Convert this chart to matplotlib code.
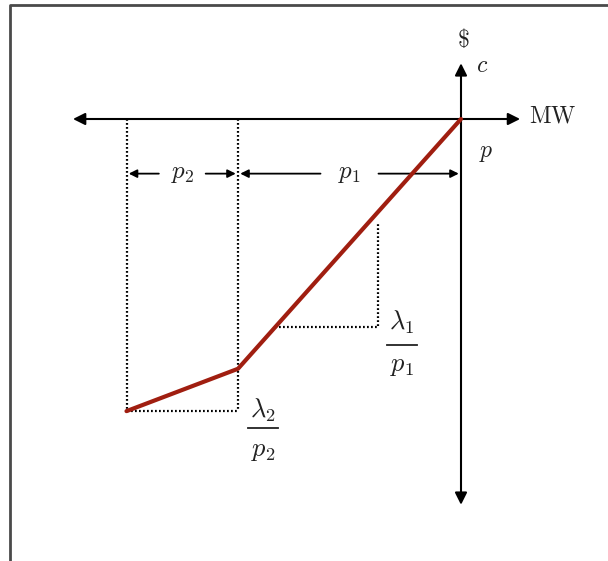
import matplotlib.pyplot as plt
import numpy as np
from matplotlib.lines import Line2D

plt.rcParams["mathtext.fontset"] = "cm"
plt.rcParams["font.family"] = ["DejaVu Serif"]

# piecewise-linear cost curve (MW on x, $ on y), origin at operating point p
mw_points = [-3.0, -2.0, 0.0]
cost_points = [-2.62, -2.24, 0.0]
segment_labels = [r"$p_2$", r"$p_1$"]
slope_num = [r"$\lambda_2$", r"$\lambda_1$"]
slope_den = [r"$p_2$", r"$p_1$"]

# slope triangle for the first segment
tri1_x = -0.744
tri1_y_low = -1.865
tri1_y_high = -0.924

INK = "#222222"
RED = "#a01e10"
PX = 111.5  # pixels per data unit
W, H = 608, 561
ox, oy = 461, 119  # origin in pixels

fig = plt.figure(figsize=(W / 100, H / 100), dpi=100, facecolor="white")
ax = fig.add_axes([0, 0, 1, 1])
ax.set_xlim(-ox / PX, (W - ox) / PX)
ax.set_ylim(-(H - oy) / PX, oy / PX)
ax.axis("off")

# frame (cropped on right and bottom)
fl, ft = 9.5 / W, 1 - 4.5 / H
fig.add_artist(Line2D([fl, fl, 1.0], [0.0, ft, ft], transform=fig.transFigure,
                      color="#4a4a4a", lw=2.0))

# axes with arrows
head = dict(arrowstyle="<|-|>", color="black", lw=1.5, mutation_scale=18, shrinkA=0, shrinkB=0)
ax.annotate("", xy=(0.53, 0), xytext=(-3.48, 0), arrowprops=head)
ax.annotate("", xy=(0, 0.50), xytext=(0, -3.46), arrowprops=head)

# dotted guides
dot = dict(color="black", lw=1.6, linestyle=(0, (0.8, 1.0)))
ax.plot([mw_points[0], mw_points[0]], [0, cost_points[0]], **dot)
ax.plot([mw_points[1], mw_points[1]], [0, cost_points[0]], **dot)
ax.plot([mw_points[0], mw_points[1]], [cost_points[0], cost_points[0]], **dot)
x_on_line = np.interp(tri1_y_low, cost_points, mw_points)
ax.plot([x_on_line, tri1_x, tri1_x], [tri1_y_low, tri1_y_low, tri1_y_high], **dot)

# cost curve
ax.plot(mw_points, cost_points, color=RED, lw=3.0, solid_capstyle="round", zorder=5)

# dimension arrows for p2 and p1
dim_y = -0.49
gaps = [0.21, 0.26]
small = dict(arrowstyle="-|>", color="black", lw=1.3, mutation_scale=12, shrinkA=0, shrinkB=0)
for i, (label, gap) in enumerate(zip(segment_labels, gaps)):
    x0, x1 = mw_points[i], mw_points[i + 1]
    mid = (x0 + x1) / 2
    ax.annotate("", xy=(x0 + 0.02, dim_y), xytext=(mid - gap, dim_y), arrowprops=small)
    ax.annotate("", xy=(x1 - 0.02, dim_y), xytext=(mid + gap, dim_y), arrowprops=small)
    ax.text(mid, dim_y, label, fontsize=18, ha="center", va="center", color=INK)

# slope labels as stacked fractions: (x centre, numerator y, bar y, denominator y)
frac_pos = [(-1.776, -2.61, -2.77, -2.97), (-0.53, -1.82, -2.03, -2.215)]
for num, den, (fx, ny, by, dy) in zip(slope_num, slope_den, frac_pos):
    ax.text(fx, ny, num, fontsize=19, ha="center", va="center", color=INK)
    ax.plot([fx - 0.135, fx + 0.135], [by, by], color=INK, lw=1.3)
    ax.text(fx, dy, den, fontsize=19, ha="center", va="center", color=INK)

# axis labels
ax.text(0.02, 0.71, r"$\$$", fontsize=17, ha="center", va="center", color=INK)
ax.text(0.19, 0.48, r"$c$", fontsize=17, ha="center", va="center", color=INK)
ax.text(0.82, 0.03, r"$\mathrm{MW}$", fontsize=17, ha="center", va="center", color=INK)
ax.text(0.23, -0.30, r"$p$", fontsize=17, ha="center", va="center", color=INK)

fig.savefig("out.png", dpi=100, facecolor="white")
